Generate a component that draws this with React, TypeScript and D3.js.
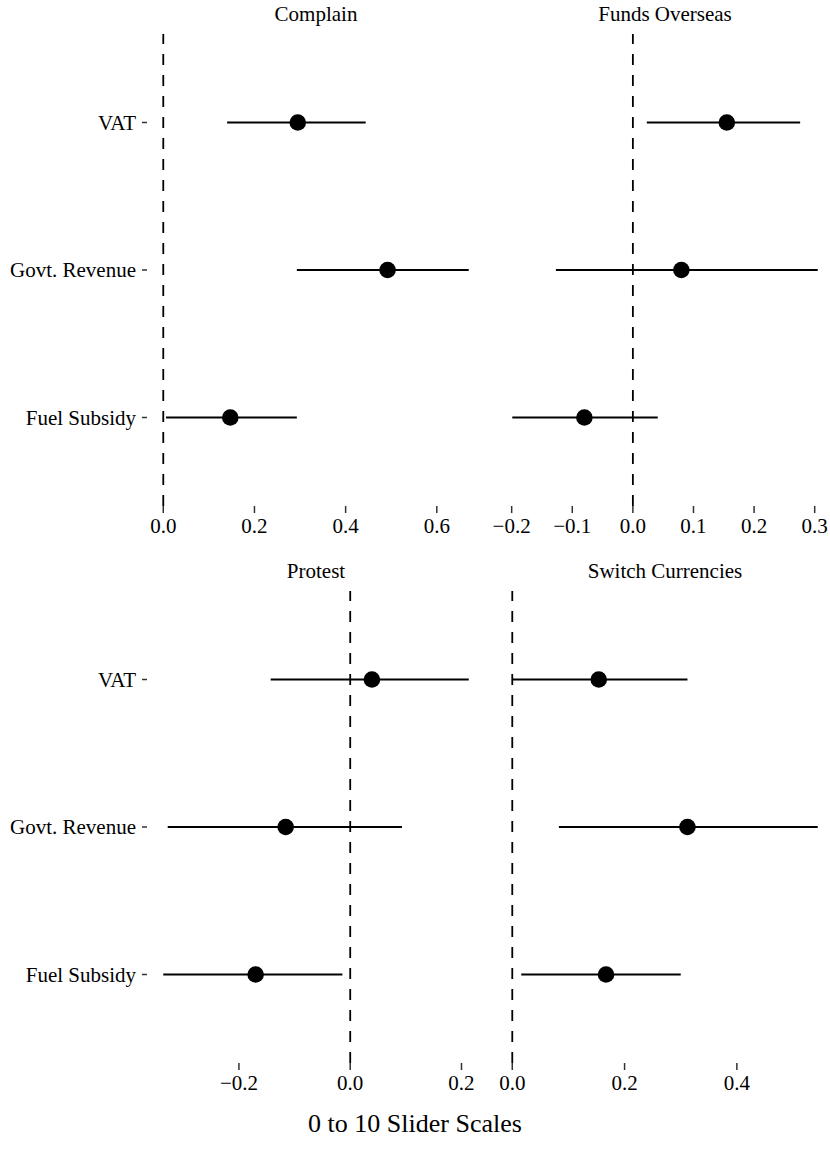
import React from "react";
import * as d3 from "d3";

// treatments, top to bottom
const treatments = ["VAT", "Govt. Revenue", "Fuel Subsidy"];
const outcomes = ["Complain", "Funds Overseas", "Protest", "Switch Currencies"];

// point estimates and 95% intervals, in treatment order
const complainEst = [0.295, 0.492, 0.147];
const complainLow = [0.14, 0.293, 0.006];
const complainHigh = [0.444, 0.67, 0.293];

const fundsEst = [0.155, 0.08, -0.08];
const fundsLow = [0.023, -0.127, -0.199];
const fundsHigh = [0.276, 0.305, 0.041];

const protestEst = [0.039, -0.116, -0.17];
const protestLow = [-0.143, -0.328, -0.336];
const protestHigh = [0.213, 0.093, -0.014];

const switchEst = [0.154, 0.312, 0.167];
const switchLow = [0.001, 0.083, 0.016];
const switchHigh = [0.312, 0.544, 0.3];

// x tick values per panel
const complainTicks = [0, 0.2, 0.4, 0.6];
const fundsTicks = [-0.2, -0.1, 0, 0.1, 0.2, 0.3];
const protestTicks = [-0.2, 0, 0.2];
const switchTicks = [0, 0.2, 0.4];

const xTitle = "0 to 10 Slider Scales";

const W = 830;
const H = 1151;
const panelW = 336;
const panelH = 472;
const colX = [148, 497];
const rowY = [34, 591];
const font = "'Liberation Serif', 'DejaVu Serif', serif";
const fs = 21;

const panels = [
  { title: outcomes[0], est: complainEst, low: complainLow, high: complainHigh, ticks: complainTicks, col: 0, row: 0 },
  { title: outcomes[1], est: fundsEst, low: fundsLow, high: fundsHigh, ticks: fundsTicks, col: 1, row: 0 },
  { title: outcomes[2], est: protestEst, low: protestLow, high: protestHigh, ticks: protestTicks, col: 0, row: 1 },
  { title: outcomes[3], est: switchEst, low: switchLow, high: switchHigh, ticks: switchTicks, col: 1, row: 1 },
];

const fmt = (v: number) => d3.format(".1f")(v).replace("-", "\u2212");

function Panel({ p }: { p: (typeof panels)[number] }) {
  const x0 = colX[p.col];
  const y0 = rowY[p.row];

  // free x scale, ggplot-style 5% expansion, zero line included
  const lo = Math.min(0, d3.min(p.low) as number);
  const hi = Math.max(0, d3.max(p.high) as number);
  const pad = (hi - lo) * 0.05;
  const x = d3.scaleLinear().domain([lo - pad, hi + pad]).range([x0, x0 + panelW]);
  const y = d3.scalePoint<string>().domain(treatments).range([y0, y0 + panelH]).padding(0.6);

  const bottom = y0 + panelH;

  return (
    <g>
      <text x={x0 + panelW / 2} y={y0 - 13} textAnchor="middle" fontSize={fs} fontFamily={font} fill="#000">
        {p.title}
      </text>

      {/* reference line at zero */}
      <line
        x1={x(0)}
        x2={x(0)}
        y1={bottom}
        y2={y0}
        stroke="#000"
        strokeWidth={1.8}
        strokeDasharray="11 10"
      />

      {treatments.map((t, i) => (
        <g key={t}>
          <line x1={x(p.low[i])} x2={x(p.high[i])} y1={y(t)} y2={y(t)} stroke="#000" strokeWidth={2.2} />
          <circle cx={x(p.est[i])} cy={y(t)} r={8.3} fill="#000" />
        </g>
      ))}

      {/* y axis only on the left column */}
      {p.col === 0 &&
        treatments.map((t) => (
          <g key={"y" + t}>
            <line x1={x0 - 6} x2={x0 - 1} y1={y(t)} y2={y(t)} stroke="#333" strokeWidth={1.5} />
            <text x={x0 - 12} y={y(t)} dy="0.35em" textAnchor="end" fontSize={fs} fontFamily={font} fill="#000">
              {t}
            </text>
          </g>
        ))}

      {p.ticks.map((v) => (
        <g key={"x" + v}>
          <line x1={x(v)} x2={x(v)} y1={bottom} y2={bottom + 7} stroke="#333" strokeWidth={1.5} />
          <text x={x(v)} y={bottom + 27} textAnchor="middle" fontSize={fs} fontFamily={font} fill="#000">
            {fmt(v)}
          </text>
        </g>
      ))}
    </g>
  );
}

export default function App() {
  return (
    <svg
      width={W}
      height={H}
      viewBox={`0 0 ${W} ${H}`}
      style={{ position: "absolute", left: 0, top: 0, background: "#fff" }}
    >
      <rect width={W} height={H} fill="#fff" />
      {panels.map((p) => (
        <Panel key={p.title} p={p} />
      ))}
      <text x={W / 2} y={1132} textAnchor="middle" fontSize={26} fontFamily={font} fill="#000">
        {xTitle}
      </text>
    </svg>
  );
}
